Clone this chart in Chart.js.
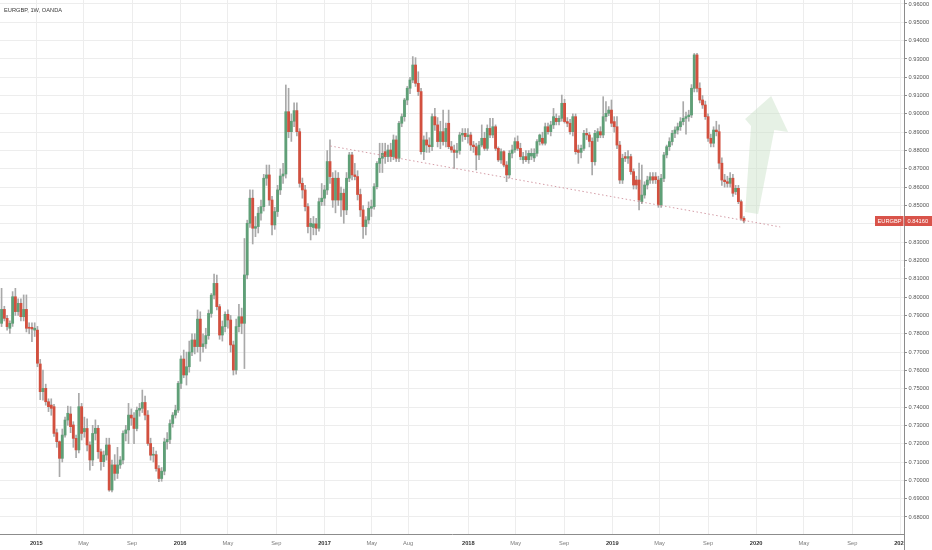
<!DOCTYPE html>
<html><head><meta charset="utf-8">
<script src="https://cdn.jsdelivr.net/npm/chart.js@4.4.1/dist/chart.umd.min.js"></script>
<style>
html,body{margin:0;padding:0;background:#fff;}
#wrap{position:relative;width:932px;height:550px;overflow:hidden;}
#title{position:absolute;left:4px;top:6.5px;font:5.7px 'Liberation Sans',Arial,sans-serif;color:#3a3a3a;white-space:nowrap;}
</style></head><body>
<div id="wrap"><canvas id="c" width="932" height="550"></canvas><div id="title">EURGBP, 1W, OANDA</div></div>
<script>
const symbol = 'EURGBP';
const firstWeek = '2014-10-05';
const open = [
.7857,.7933,.7884,.7830,.7857,.8002,.7921,.7966,.7893,.7933,
.7835,.7835,.7820,.7820,.7635,.7484,.7502,.7429,.7411,.7402,
.7260,.7211,.7120,.7247,.7329,.7362,.7302,.7229,.7166,.7402,
.7265,.7283,.7193,.7111,.7256,.7284,.7156,.7102,.7138,.7193,
.6947,.7084,.7038,.7084,.7111,.7256,.7275,.7356,.7340,.7283,
.7383,.7393,.7425,.7356,.7201,.7137,.7140,.7064,.7010,.7050,
.7210,.7223,.7310,.7356,.7383,.7529,.7662,.7575,.7620,.7700,
.7766,.7730,.7880,.7730,.7745,.7790,.7911,.8011,.8075,.7948,
.7793,.7839,.7906,.7875,.7739,.7602,.7839,.7893,.7857,.8121,
.8403,.8540,.8376,.8385,.8458,.8494,.8649,.8667,.8530,.8394,
.8467,.8585,.8661,.8672,.9012,.8903,.8960,.9018,.8903,.8621,
.8585,.8494,.8385,.8380,.8400,.8376,.8521,.8540,.8585,.8740,
.8649,.8530,.8649,.8530,.8567,.8476,.8649,.8776,.8667,.8658,
.8560,.8476,.8385,.8421,.8485,.8494,.8603,.8730,.8758,.8794,
.8767,.8803,.8767,.8858,.8758,.8949,.8985,.9076,.9140,.9185,
.9267,.9167,.9122,.8794,.8858,.8830,.8821,.8985,.8940,.8849,
.8903,.8849,.8949,.8821,.8803,.8790,.8800,.8885,.8894,.8876,
.8885,.8830,.8821,.8776,.8830,.8867,.8812,.8921,.8885,.8930,
.8812,.8749,.8794,.8721,.8667,.8785,.8803,.8849,.8812,.8750,
.8767,.8750,.8770,.8760,.8785,.8849,.8867,.8840,.8930,.8903,
.8940,.8976,.8958,.8976,.9058,.8958,.8949,.8903,.8985,.8803,
.8790,.8812,.8894,.8885,.8850,.8739,.8870,.8903,.8885,.8985,
.9003,.9021,.8958,.8930,.8830,.8639,.8767,.8758,.8767,.8685,
.8639,.8639,.8521,.8557,.8612,.8639,.8657,.8657,.8639,.8503,
.8648,.8776,.8821,.8849,.8894,.8912,.8930,.8958,.8976,.8985,
.8994,.9140,.9322,.9140,.9076,.9049,.8985,.8867,.8840,.8912,
.8903,.8731,.8639,.8630,.8621,.8649,.8576,.8594,.8521,.8430];
const high = [
.8048,.7950,.7900,.7870,.8030,.8048,.7990,.7990,.8012,.8012,
.7860,.7860,.7860,.7840,.7660,.7602,.7525,.7445,.7445,.7415,
.7280,.7215,.7280,.7345,.7405,.7402,.7320,.7247,.7475,.7420,
.7345,.7336,.7210,.7300,.7330,.7300,.7170,.7160,.7230,.7230,
.7110,.7140,.7180,.7130,.7270,.7300,.7420,.7390,.7370,.7400,
.7420,.7493,.7460,.7380,.7230,.7180,.7160,.7080,.7070,.7230,
.7260,.7330,.7370,.7410,.7540,.7680,.7711,.7700,.7760,.7800,
.7800,.7930,.7920,.7800,.7830,.7930,.8020,.8126,.8120,.7960,
.7870,.7920,.7930,.7900,.7760,.7880,.7960,.7940,.8320,.8420,
.8585,.8585,.8440,.8490,.8530,.8670,.8721,.8721,.8550,.8490,
.8610,.8700,.8730,.9158,.9140,.9000,.9060,.9060,.8920,.8650,
.8610,.8510,.8430,.8440,.8430,.8540,.8620,.8610,.8800,.8858,
.8680,.8690,.8680,.8600,.8590,.8680,.8790,.8790,.8730,.8690,
.8590,.8500,.8440,.8520,.8530,.8620,.8740,.8840,.8840,.8840,
.8830,.8840,.8885,.8880,.8960,.9000,.9085,.9150,.9200,.9313,
.9307,.9230,.9140,.8880,.8900,.8870,.9000,.9030,.8980,.8960,
.9021,.8950,.9021,.8850,.8830,.8840,.8900,.8920,.8920,.8920,
.8900,.8850,.8840,.8850,.8940,.8900,.8940,.8976,.8976,.8940,
.8820,.8810,.8800,.8740,.8800,.8830,.8870,.8880,.8840,.8790,
.8800,.8800,.8810,.8810,.8860,.8890,.8900,.8950,.8950,.8960,
.9030,.9000,.8990,.9103,.9080,.8980,.8970,.9000,.9000,.8830,
.8830,.8910,.8920,.8900,.8870,.8910,.8920,.8930,.9094,.9067,
.9040,.9076,.8985,.8985,.8850,.8780,.8790,.8800,.8780,.8700,
.8660,.8731,.8721,.8630,.8660,.8680,.8680,.8680,.8660,.8670,
.8790,.8830,.8870,.8910,.8930,.8950,.8980,.9067,.9010,.9020,
.9160,.9330,.9331,.9170,.9100,.9070,.9000,.8890,.8930,.8960,
.8940,.8760,.8670,.8660,.8680,.8670,.8610,.8610,.8530,.8440];
const low = [
.7839,.7870,.7820,.7802,.7840,.7900,.7900,.7870,.7870,.7810,
.7800,.7757,.7785,.7620,.7440,.7438,.7410,.7375,.7355,.7240,
.7180,.7020,.7100,.7235,.7300,.7260,.7180,.7123,.7150,.7220,
.7235,.7160,.7056,.7080,.7220,.7120,.7056,.7075,.7110,.6940,
.6937,.7000,.7010,.7065,.7090,.7215,.7200,.7300,.7200,.7270,
.7350,.7370,.7330,.7190,.7110,.7100,.7050,.6993,.6995,.7030,
.7170,.7200,.7290,.7340,.7370,.7500,.7560,.7520,.7590,.7680,
.7690,.7700,.7650,.7700,.7720,.7770,.7890,.7990,.7930,.7770,
.7760,.7810,.7830,.7700,.7575,.7580,.7810,.7800,.7610,.8100,
.8380,.8290,.8330,.8350,.8420,.8470,.8610,.8500,.8340,.8370,
.8440,.8560,.8620,.8650,.8870,.8850,.8930,.8880,.8600,.8540,
.8470,.8350,.8312,.8340,.8340,.8360,.8500,.8500,.8560,.8620,
.8490,.8460,.8500,.8440,.8403,.8450,.8630,.8640,.8640,.8530,
.8440,.8321,.8340,.8400,.8440,.8480,.8590,.8680,.8680,.8730,
.8740,.8740,.8750,.8740,.8740,.8930,.8960,.9050,.9110,.9170,
.9150,.9100,.8780,.8750,.8790,.8790,.8800,.8910,.8820,.8810,
.8830,.8820,.8810,.8790,.8703,.8760,.8780,.8850,.8860,.8840,
.8800,.8790,.8694,.8750,.8820,.8800,.8800,.8870,.8870,.8800,
.8740,.8730,.8710,.8630,.8650,.8760,.8790,.8800,.8750,.8730,
.8740,.8730,.8750,.8740,.8770,.8830,.8830,.8830,.8890,.8880,
.8920,.8940,.8940,.8960,.8950,.8930,.8890,.8880,.8780,.8730,
.8760,.8800,.8860,.8820,.8667,.8720,.8850,.8870,.8870,.8960,
.8990,.8930,.8900,.8810,.8620,.8620,.8740,.8730,.8670,.8590,
.8590,.8476,.8510,.8540,.8590,.8620,.8620,.8620,.8490,.8490,
.8630,.8760,.8800,.8830,.8870,.8890,.8910,.8940,.8890,.8960,
.8980,.9120,.9120,.9060,.9030,.8970,.8850,.8820,.8820,.8880,
.8700,.8610,.8600,.8600,.8600,.8550,.8560,.8510,.8420,.8405];
const close = [
.7933,.7884,.7839,.7857,.8002,.7921,.7966,.7893,.7933,.7830,
.7830,.7826,.7830,.7639,.7484,.7502,.7429,.7402,.7393,.7256,
.7211,.7120,.7247,.7329,.7366,.7293,.7229,.7166,.7402,.7256,
.7283,.7193,.7111,.7256,.7284,.7156,.7102,.7138,.7193,.6947,
.7084,.7038,.7084,.7111,.7256,.7275,.7356,.7340,.7283,.7383,
.7393,.7425,.7356,.7201,.7137,.7140,.7064,.7010,.7050,.7210,
.7223,.7310,.7356,.7383,.7529,.7662,.7575,.7620,.7700,.7766,
.7730,.7880,.7730,.7745,.7790,.7911,.8011,.8075,.7948,.7793,
.7839,.7906,.7875,.7739,.7602,.7839,.7893,.7857,.8121,.8403,
.8540,.8376,.8385,.8458,.8494,.8649,.8667,.8530,.8394,.8467,
.8585,.8661,.8672,.9012,.8903,.8960,.9018,.8903,.8621,.8585,
.8494,.8385,.8403,.8400,.8376,.8521,.8540,.8585,.8740,.8658,
.8530,.8649,.8530,.8567,.8476,.8649,.8776,.8667,.8658,.8560,
.8476,.8385,.8421,.8485,.8494,.8603,.8730,.8758,.8785,.8767,
.8803,.8767,.8858,.8758,.8949,.8985,.9076,.9140,.9185,.9267,
.9167,.9122,.8794,.8858,.8830,.8821,.8985,.8940,.8849,.8903,
.8849,.8921,.8821,.8803,.8790,.8800,.8885,.8894,.8876,.8885,
.8830,.8821,.8776,.8830,.8867,.8812,.8921,.8885,.8930,.8812,
.8749,.8794,.8721,.8667,.8785,.8803,.8849,.8812,.8767,.8767,
.8750,.8785,.8785,.8785,.8849,.8885,.8840,.8930,.8903,.8940,
.8985,.8958,.8976,.9058,.8958,.8949,.8903,.8985,.8794,.8790,
.8812,.8894,.8885,.8850,.8739,.8894,.8903,.8885,.8985,.9003,
.9021,.8949,.8930,.8830,.8639,.8758,.8758,.8767,.8685,.8612,
.8612,.8530,.8557,.8612,.8639,.8657,.8639,.8641,.8503,.8648,
.8776,.8821,.8849,.8894,.8912,.8930,.8958,.8976,.8985,.8994,
.9140,.9322,.9140,.9076,.9049,.8985,.8867,.8840,.8912,.8903,
.8731,.8639,.8630,.8621,.8649,.8567,.8594,.8521,.8430,.8416];
const xTickDates = ['2015-01-01','2015-05-01','2015-09-01','2016-01-01','2016-05-01','2016-09-01','2017-01-01','2017-05-01','2017-08-01','2018-01-01','2018-05-01','2018-09-01','2019-01-01','2019-05-01','2019-09-01','2020-01-01','2020-05-01','2020-09-01','2021-01-01'];
const xTickLabels = ['2015','May','Sep','2016','May','Sep','2017','May','Aug','2018','May','Sep','2019','May','Sep','2020','May','Sep','2021'];
const yTicks = [0.68,0.69,0.70,0.71,0.72,0.73,0.74,0.75,0.76,0.77,0.78,0.79,0.80,0.81,0.82,0.83,0.84,0.85,0.86,0.87,0.88,0.89,0.90,0.91,0.92,0.93,0.94,0.95,0.96];
const trendLine = [{date:'2017-01-16', price:0.8825},{date:'2020-03-02', price:0.8383}];

const FONT = "'Liberation Sans', Arial, sans-serif";
const UP = '#5f9f77', DOWN = '#d2503f', WICK = '#a9a9a9', GRID = '#ededed', AXIS = '#8c8c8c';
const T0 = Date.UTC(2015,0,1), DAY = 864e5;
const toDay = s => (Date.parse(s) - T0) / DAY;
const start = toDay(firstWeek);
const xs = close.map((_, i) => start + 7 * i);
const wickData = xs.map((x, i) => ({x, y: [low[i], high[i]]}));
const bodyData = xs.map((x, i) => ({x, y: [open[i], close[i]]}));
const bodyColors = close.map((c, i) => c >= open[i] ? UP : DOWN);
const isYear = s => /^\d/.test(s);

const overlay = {
  id: 'overlay',
  beforeDatasetsDraw(chart) {
    const {ctx, scales: {x, y}} = chart;
    // translucent "up" arrow annotation (day offset, price)
    const shape = [[1864,0.9098],[1907,0.8901],[1872,0.8912],[1831,0.8454],[1798,0.8465],[1813,0.8934],[1798,0.8972]];
    ctx.save();
    ctx.beginPath();
    shape.forEach(([d, p], i) => {
      const px = x.getPixelForValue(d), py = y.getPixelForValue(p);
      i ? ctx.lineTo(px, py) : ctx.moveTo(px, py);
    });
    ctx.closePath();
    ctx.fillStyle = 'rgba(200,225,198,0.45)';
    ctx.fill();
    ctx.restore();
  },
  afterDraw(chart) {
    const {ctx, chartArea, scales: {y}} = chart;
    const r = chartArea.right, b = chartArea.bottom;
    ctx.save();
    // price-scale column continues below the time axis (clips the last time label)
    ctx.fillStyle = '#ffffff';
    ctx.fillRect(r + 0.5, b + 0.5, 932 - r, 550 - b);
    ctx.strokeStyle = AXIS;
    ctx.lineWidth = 1;
    ctx.beginPath();
    ctx.moveTo(Math.round(r) + 0.5, b);
    ctx.lineTo(Math.round(r) + 0.5, 550);
    ctx.stroke();
    // last price label
    const last = close[close.length - 1];
    const py = Math.round(y.getPixelForValue(last));
    ctx.fillStyle = '#d9534a';
    ctx.fillRect(r - 29, py - 5, 28.5, 10);
    ctx.fillRect(r + 0.5, py - 5, 932 - r, 10);
    ctx.fillStyle = '#ffffff';
    ctx.font = '5.7px ' + FONT;
    ctx.textBaseline = 'middle';
    ctx.textAlign = 'center';
    ctx.fillText(symbol, r - 14.5, py + 0.5);
    ctx.textAlign = 'left';
    ctx.fillText(last.toFixed(5), r + 3.5, py + 0.5);
    ctx.restore();
  }
};

new Chart(document.getElementById('c'), {
  data: {
    datasets: [
      {type: 'line', data: trendLine.map(p => ({x: toDay(p.date), y: p.price})), borderColor: 'rgba(205,140,150,0.85)', borderWidth: 1, borderDash: [1.5, 2.5], pointRadius: 0, order: 0},
      {type: 'bar', data: bodyData, backgroundColor: bodyColors, borderWidth: 0, barThickness: 2.2, grouped: false, minBarLength: 1, order: 1},
      {type: 'bar', data: wickData, backgroundColor: WICK, borderWidth: 0, barThickness: 1, grouped: false, order: 2}
    ]
  },
  options: {
    responsive: false,
    devicePixelRatio: 1,
    animation: false,
    layout: {padding: 0},
    plugins: {legend: {display: false}, tooltip: {enabled: false}, title: {display: false}},
    scales: {
      x: {
        type: 'linear', min: toDay('2014-10-01'), max: toDay('2021-01-10'), offset: false,
        afterBuildTicks: s => { s.ticks = xTickDates.map(d => ({value: toDay(d)})); },
        afterFit: s => { s.height = 16; s.paddingLeft = 0; s.paddingRight = 0; s.paddingTop = 0; s.paddingBottom = 0; },
        grid: {color: GRID, drawTicks: false, offset: false},
        border: {display: true, color: AXIS},
        ticks: {
          autoSkip: false, maxRotation: 0, padding: 6,
          callback: (v, i) => xTickLabels[i],
          font: ctx => ({family: FONT, size: 5.7, weight: isYear(xTickLabels[ctx.index] || '') ? 'bold' : 'normal'}),
          color: ctx => isYear(xTickLabels[ctx.index] || '') ? '#333' : '#7a7a7a'
        }
      },
      y: {
        type: 'linear', position: 'right', min: 0.6707, max: 0.96218,
        afterBuildTicks: s => { s.ticks = yTicks.map(v => ({value: v})); },
        afterFit: s => { s.width = 28; s.paddingTop = 0; s.paddingBottom = 0; s.paddingLeft = 0; s.paddingRight = 0; },
        grid: {color: GRID, drawTicks: true, tickLength: 3, tickColor: AXIS},
        border: {display: true, color: AXIS},
        ticks: {padding: 1.5, font: {family: FONT, size: 5.7}, color: '#555', callback: v => Number(v).toFixed(5)}
      }
    }
  },
  plugins: [overlay]
});
</script>
</body></html>
